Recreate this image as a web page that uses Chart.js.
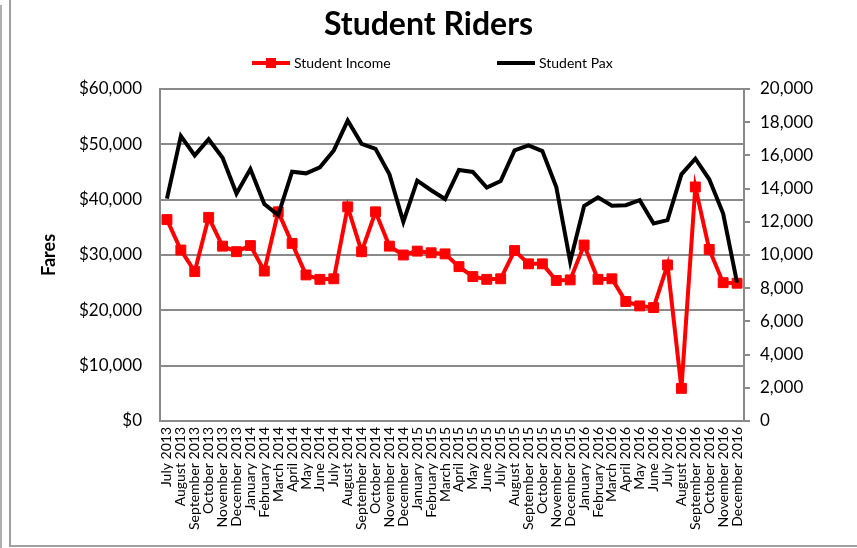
<!DOCTYPE html>
<html>
<head>
<meta charset="utf-8">
<script src="https://cdn.jsdelivr.net/npm/chart.js@4"></script>
<style>
  html, body { margin: 0; padding: 0; background: #fff; }
  #wrap { position: relative; width: 857px; height: 548px; overflow: hidden; }
  #frame { position: absolute; left: 9px; top: -4px; width: 900px; height: 551px; border: 2px solid #a0a0a0; box-sizing: border-box; }
  #outer { position: absolute; left: -4px; top: 5px; width: 6px; height: 560px; border-top: 2px solid #b0b0b0; border-right: 2px solid #b0b0b0; box-sizing: border-box; }
  canvas { position: absolute; left: 0; top: 0; }
</style>
</head>
<body>
<div id="wrap">
  <div id="outer"></div>
  <div id="frame"></div>
  <canvas id="chart_c" width="857" height="548"></canvas>
</div>
<script>
const months = [
  'July 2013', 'August 2013', 'September 2013', 'October 2013', 'November 2013', 'December 2013',
  'January 2014', 'February 2014', 'March 2014', 'April 2014', 'May 2014', 'June 2014',
  'July 2014', 'August 2014', 'September 2014', 'October 2014', 'November 2014', 'December 2014',
  'January 2015', 'February 2015', 'March 2015', 'April 2015', 'May 2015', 'June 2015',
  'July 2015', 'August 2015', 'September 2015', 'October 2015', 'November 2015', 'December 2015',
  'January 2016', 'February 2016', 'March 2016', 'April 2016', 'May 2016', 'June 2016',
  'July 2016', 'August 2016', 'September 2016', 'October 2016', 'November 2016', 'December 2016'
]

// fares ($), left axis
const studentIncome = [
  36400, 30900, 27000, 36800, 31600, 30600, 31700, 27100, 37800, 32100,
  26400, 25600, 25700, 38700, 30600, 37800, 31600, 30000, 30700, 30400,
  30200, 27900, 26100, 25600, 25700, 30800, 28400, 28400, 25400, 25500,
  31800, 25600, 25700, 21600, 20800, 20500, 28200, 5900, 42300, 31000,
  25000, 24900
]

// passengers, right axis
const studentPax = [
  13400, 17170, 16000, 16970, 15860, 13700, 15180, 13070, 12400, 15020,
  14920, 15280, 16300, 18100, 16700, 16400, 14860, 12000, 14480, 13900,
  13370, 15120, 15000, 14060, 14460, 16300, 16600, 16260, 14100, 9600,
  12950, 13470, 12970, 13000, 13300, 11900, 12100, 14860, 15800, 14560,
  12500, 8330
]

const fontFam = "Lato, 'Liberation Sans', sans-serif"
const gridGray = '#8a8a8a'

// legend drawn by hand: line + marker, like the spreadsheet one
const lineLegend = {
  id: 'lineLegend',
  afterDraw: (chart) => {
    const ctx = chart.ctx
    const y = 63
    const items = [
      { x: 252, ds: chart.data.datasets[0] },
      { x: 497, ds: chart.data.datasets[1] }
    ]
    ctx.save()
    items.map((it) => {
      ctx.strokeStyle = it.ds.borderColor
      ctx.lineWidth = 4
      ctx.beginPath()
      ctx.moveTo(it.x, y)
      ctx.lineTo(it.x + 38, y)
      ctx.stroke()
      if (it.ds.pointStyle === 'rect') {
        ctx.fillStyle = it.ds.borderColor
        ctx.fillRect(it.x + 14, y - 5, 10, 10)
      }
      ctx.fillStyle = '#000'
      ctx.font = '14px ' + fontFam
      ctx.textAlign = 'left'
      ctx.textBaseline = 'middle'
      ctx.fillText(it.ds.label, it.x + 42, y)
    })
    ctx.restore()
  }
}

new Chart(document.getElementById('chart_c'), {
  type: 'line',
  data: {
    labels: months,
    datasets: [
      {
        label: 'Student Income',
        data: studentIncome,
        yAxisID: 'y',
        borderColor: '#ff0000',
        backgroundColor: '#ff0000',
        borderWidth: 4,
        pointStyle: 'rect',
        pointRadius: 7,
        pointBorderWidth: 1,
        tension: 0,
        order: 1
      },
      {
        label: 'Student Pax',
        data: studentPax,
        yAxisID: 'y1',
        borderColor: '#000000',
        backgroundColor: '#000000',
        borderWidth: 4,
        pointRadius: 0,
        tension: 0,
        order: 0
      }
    ]
  },
  options: {
    responsive: false,
    animation: false,
    layout: { padding: 0 },
    plugins: {
      legend: { display: false },
      tooltip: { enabled: false },
      title: {
        display: true,
        text: 'Student Riders',
        color: '#000',
        font: { family: fontFam, size: 32, weight: 'bold' },
        padding: { top: 5, bottom: 45.6 }
      }
    },
    scales: {
      x: {
        offset: true,
        grid: { display: false, drawTicks: false },
        border: { display: true, color: gridGray, width: 2 },
        ticks: {
          autoSkip: false,
          minRotation: 90,
          maxRotation: 90,
          padding: 6,
          color: '#000',
          font: { family: fontFam, size: 14 }
        },
        afterFit: (scale) => { scale.height = 127 }
      },
      y: {
        position: 'left',
        min: 0,
        max: 60000,
        ticks: {
          stepSize: 10000,
          padding: 18,
          color: '#000',
          font: { family: fontFam, size: 17 },
          callback: (v) => '$' + v.toLocaleString('en-US')
        },
        grid: { color: gridGray, lineWidth: 2, drawTicks: false },
        border: { display: true, color: gridGray, width: 2 },
        title: {
          display: true,
          text: 'Fares',
          color: '#000',
          font: { family: fontFam, size: 18, weight: 'bold' },
          padding: { top: 38, bottom: 0 }
        },
        afterFit: (scale) => { scale.width = 160 }
      },
      y1: {
        position: 'right',
        min: 0,
        max: 20000,
        ticks: {
          stepSize: 2000,
          padding: 10,
          color: '#000',
          font: { family: fontFam, size: 17 },
          callback: (v) => v.toLocaleString('en-US')
        },
        grid: { drawOnChartArea: false, drawTicks: true, tickLength: 6, color: gridGray, lineWidth: 2 },
        border: { display: true, color: gridGray, width: 2 },
        afterFit: (scale) => { scale.width = 113 }
      }
    }
  },
  plugins: [lineLegend]
})
</script>
</body>
</html>
